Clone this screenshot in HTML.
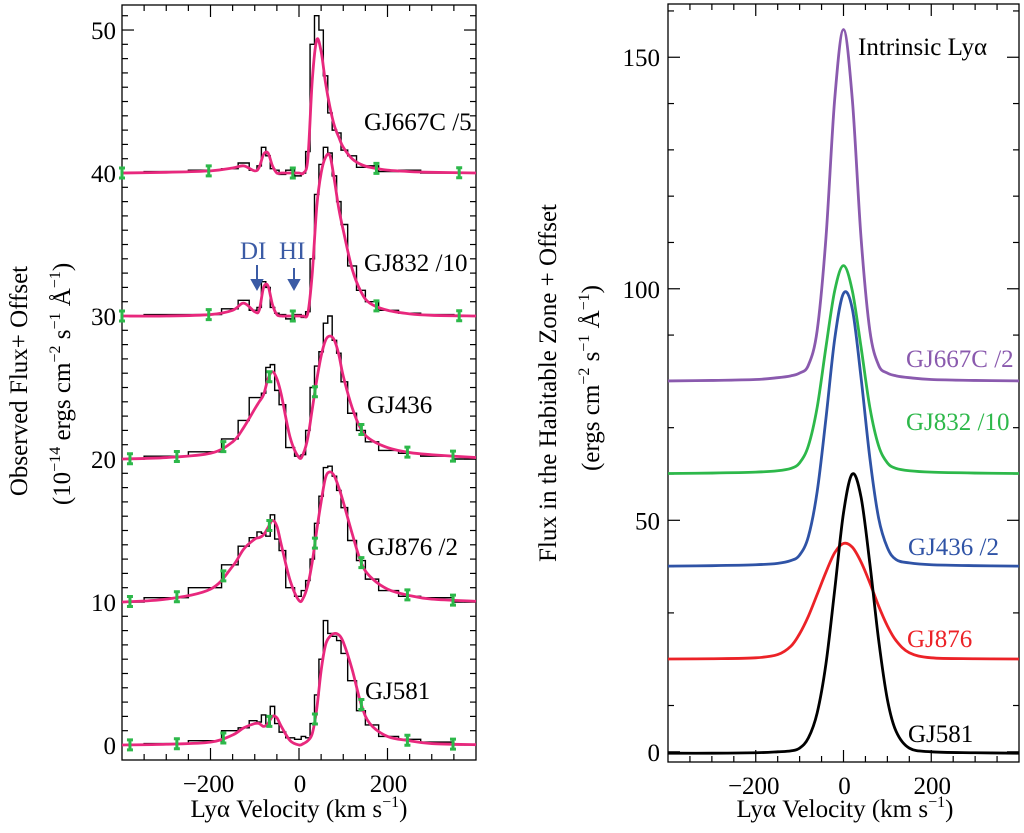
<!DOCTYPE html>
<html><head><meta charset="utf-8"><style>
body{margin:0;background:#fff}
svg{display:block;font-family:"Liberation Serif",serif}
</style></head><body>
<svg id="c" width="1024" height="833" viewBox="0 0 1024 833"></svg>
<script>
// ---------- data ----------
const leftV=[-400,-300,-200,-150,-125,-100,-90,-80,-70,-60,-50,-40,-20,0,10,20,30,40,50,60,70,80,90,100,120,140,160,200,250,300,400];
const gj667Model=[40,40.05,40.15,40.35,40.5,40.15,40.4,41.3,41.4,40.5,40,40,40,40,40,41,46.5,49.3,48.5,46.3,44.6,43.3,42.5,41.8,41,40.6,40.4,40.2,40.1,40.05,40];
const gj667Obs=[40,40.1,40.2,40.3,40.7,40.2,40.5,41.8,41.2,40.3,40.2,39.9,40.2,39.8,40,41.5,49,51,50,46.8,44.2,43,42.8,41.6,41.2,40.4,40.5,40.1,40.2,40,40];
const gj832Model=[30,30,30.1,30.4,30.9,30.3,30.4,32,32.1,30.8,30.1,30,30,30,30,30.2,33,37.6,40,41.1,41.2,39.5,37.5,36,33.3,31.7,30.9,30.4,30.15,30.05,30];
const gj832Obs=[30,30.1,30.1,30.5,31.1,30.4,30.6,32.4,32,30.6,30.2,30.1,29.8,30.1,29.9,30.3,34,38.5,40.6,41.8,41.4,39.8,38,36.4,33.5,31.8,31,30.4,30.2,30.1,30];
const gj436Model=[20,20.1,20.4,21.2,22.2,23.5,24,24.5,25.6,26.1,25.6,24.5,21.5,20.1,20.4,21.5,23.5,25.5,27.2,28.3,28.6,28.3,27.3,25.8,23.6,22.1,21.4,20.8,20.45,20.3,20.1];
const gj436Obs=[20,20.2,20.5,21.4,22.7,24.3,24.3,24.6,26.4,26.6,24.8,23.8,20.8,20.2,20.3,22,25,26.5,27.5,29.5,30,28.3,27.4,25.4,23.2,22,21.2,20.6,20.4,20.2,20];
const gj876Model=[10,10.2,10.9,12.5,13.7,14.4,14.5,14.7,15.2,15.7,15.3,14,11.5,10.1,10.3,11.2,12.8,15,17,18.7,19.1,18.8,18,17,14.8,12.8,11.8,10.9,10.45,10.2,10.05];
const gj876Obs=[10,10.3,11,12.6,13.9,14.5,14.9,14.8,14.6,16.1,14.4,13.6,11,10.4,10.8,11.5,13,15.5,17.4,19.4,19.5,18.8,17.8,16.6,14.3,12.9,11.6,10.8,10.4,10.3,10];
const gj581Model=[0,0.05,0.2,0.7,1.2,1.5,1.5,1.3,1.5,2,1.9,1.3,0.3,0,0.1,0.3,0.8,2.5,5.2,7,7.6,7.8,7.7,7.2,5.3,2.9,1.5,0.6,0.3,0.1,0.02];
const gj581Obs=[0,0.1,0.3,1,1.2,1.7,1.6,2.1,1.3,2.7,1.5,0.9,0.5,0.4,0.6,0.5,1.5,3.5,6,8.7,7.8,7.6,7.3,6.4,4.5,2.4,1.4,0.6,0.4,0.2,0];
const errV1=[-400,-204,-14,175,362];
const errV2=[-382,-276,-171,-67,36,141,245,348];
const rightV=[-400,-300,-200,-150,-120,-100,-80,-60,-40,-20,0,20,40,60,80,100,120,150,200,300,400];
const gj667Int=[80.1,80.2,80.4,80.8,81.2,81.8,83.5,91,111,141,156,141,111,91,83.5,81.8,81.2,80.8,80.4,80.2,80.1];
const gj832Int=[60.1,60.2,60.4,60.7,61.2,62.4,66.1,74.4,87.4,99.6,105,99.6,87.4,74.4,66.1,62.4,61.2,60.7,60.4,60.2,60.1];
const gj436Int=[40.1,40.2,40.4,40.7,41.3,42.5,46.5,56.2,72,89.2,99,95.7,80.8,63.5,50.5,44.1,41.5,40.8,40.4,40.2,40.1];
const gj876Int=[20.05,20.1,20.3,21,22.8,25.5,29.3,34,38.8,43,45,44.2,41,36.5,31.5,27.2,24,21.4,20.3,20.1,20.05];
const gj581Int=[-0.3,-0.3,-0.2,0,0.2,0.8,3,8.4,19,35,51.6,60,55,40.7,24.2,11.3,4.4,0.8,0,-0.2,-0.3];
const leftYTicks=[0,10,20,30,40,50];
const rightYTicks=[0,50,100,150];
const xTicks=[-200,0,200];

// ---------- helpers ----------
const svg=document.getElementById('c');const NS='http://www.w3.org/2000/svg';
function mk(t,a,p){const e=document.createElementNS(NS,t);for(const k in a)e.setAttribute(k,a[k]);(p||svg).appendChild(e);return e;}
const L={x0:122,x1:476,y0:5,y1:760,vmin:-400,vmax:400,ymin:-1.05,ymax:51.75};
const R={x0:668,x1:1019,y0:4,y1:762,vmin:-400,vmax:400,ymin:-2.2,ymax:161.5};
const sx=(P,v)=>P.x0+(v-P.vmin)/(P.vmax-P.vmin)*(P.x1-P.x0);
const sy=(P,y)=>P.y1-(y-P.ymin)/(P.ymax-P.ymin)*(P.y1-P.y0);
function smooth(pts){let d='M'+pts[0][0]+','+pts[0][1];for(let i=0;i<pts.length-1;i++){const p0=pts[Math.max(0,i-1)],p1=pts[i],p2=pts[i+1],p3=pts[Math.min(pts.length-1,i+2)];const c1x=p1[0]+(p2[0]-p0[0])/6,c1y=p1[1]+(p2[1]-p0[1])/6,c2x=p2[0]-(p3[0]-p1[0])/6,c2y=p2[1]-(p3[1]-p1[1])/6;d+=` C${c1x},${c1y} ${c2x},${c2y} ${p2[0]},${p2[1]}`;}return d;}
function interp(xs,ys,x){for(let i=0;i<xs.length-1;i++){if(x>=xs[i]&&x<=xs[i+1]){const t=(x-xs[i])/(xs[i+1]-xs[i]);return ys[i]+t*(ys[i+1]-ys[i]);}}return ys[ys.length-1];}

function drawFrame(P,yMinor,yMajor,ymaxTick,name){
  const g=mk('g',{});
  
  
  mk('rect',{x:P.x0,y:P.y0,width:P.x1-P.x0,height:P.y1-P.y0,fill:'none',stroke:'#000','stroke-width':1.3},g);
  for(let v=-350;v<=350;v+=50){const x=sx(P,v),len=(v%200===0)?12:6;
    mk('line',{x1:x,x2:x,y1:P.y1,y2:P.y1-len,stroke:'#000','stroke-width':1.2},g);
    mk('line',{x1:x,x2:x,y1:P.y0,y2:P.y0+len,stroke:'#000','stroke-width':1.2},g);}
  for(let y=0;y<=ymaxTick;y+=yMinor){const yy=sy(P,y),len=(Math.abs(y%yMajor)<1e-6)?12:6;
    mk('line',{x1:P.x0,x2:P.x0+len,y1:yy,y2:yy,stroke:'#000','stroke-width':1.2},g);
    mk('line',{x1:P.x1,x2:P.x1-len,y1:yy,y2:yy,stroke:'#000','stroke-width':1.2},g);}
  xTicks.forEach(v=>{const t=mk('text',{x:sx(P,v)+(v<0?-2:1),y:P.y1+32,'font-size':25,'text-anchor':'middle'},g);t.textContent=v<0?'\u2212'+(-v):v;
    });
}
drawFrame(L,1,10,51,'left');
drawFrame(R,10,50,160,'right');
leftYTicks.forEach(y=>{const t=mk('text',{x:116,y:sy(L,y)+9,'font-size':25,'text-anchor':'end'});t.textContent=y;
  });
rightYTicks.forEach(y=>{const t=mk('text',{x:660,y:sy(R,y)+9,'font-size':25,'text-anchor':'end'});t.textContent=y;
  });

// ---------- left series ----------
const leftSeries=[[gj667Obs,gj667Model,errV1,'gj667c'],[gj832Obs,gj832Model,errV1,'gj832'],[gj436Obs,gj436Model,errV2,'gj436'],[gj876Obs,gj876Model,errV2,'gj876'],[gj581Obs,gj581Model,errV2,'gj581']];
leftSeries.forEach(([obs,mod,ev,nm])=>{
  let d='';
  for(let i=0;i<leftV.length;i++){
    const lo=i===0?leftV[0]:(leftV[i-1]+leftV[i])/2, hi=i===leftV.length-1?leftV[i]:(leftV[i]+leftV[i+1])/2;
    const y=sy(L,obs[i]);d+=(i===0?'M':'L')+sx(L,lo)+','+y+' L'+sx(L,hi)+','+y+' ';}
  const o=mk('path',{d:d,fill:'none',stroke:'#000','stroke-width':1.4});
  
  
  const m=mk('path',{d:smooth(leftV.map((v,i)=>[sx(L,v),sy(L,mod[i])])),fill:'none',stroke:'#e8287d','stroke-width':2.8});
  
  
  ev.forEach(v=>{const x=sx(L,v),y=sy(L,interp(leftV,mod,v));
    const e=mk('path',{d:`M${x-3},${y-5}H${x+3}M${x},${y-5}V${y+5}M${x-3},${y+5}H${x+3}`,stroke:'#2db84a','stroke-width':3,fill:'none'});
    
    });
});

// ---------- right series ----------
const rightSeries=[[gj667Int,'#8a5aae','gj667c'],[gj832Int,'#2db84a','gj832'],[gj436Int,'#2f53a6','gj436'],[gj876Int,'#ec2227','gj876'],[gj581Int,'#000','gj581']];
rightSeries.forEach(([vals,col,nm])=>{
  const p=mk('path',{d:smooth(rightV.map((v,i)=>[sx(R,v),sy(R,vals[i])])),fill:'none',stroke:col,'stroke-width':2.8});
  
  
});
</script>
<div style="position:absolute;left:0;top:0;width:1024px;height:833px;pointer-events:none;font-family:'Liberation Serif',serif">
<svg width="1024" height="833" style="position:absolute;left:0;top:0">
<g font-size="25" fill="#000">
<text x="364" y="130">GJ667C /5</text>
<text x="364" y="271">GJ832 /10</text>
<text x="367" y="413">GJ436</text>
<text x="367" y="555">GJ876 /2</text>
<text x="365" y="699">GJ581</text>
<text x="240" y="259" fill="#3b5ba5">DI</text>
<text x="279" y="259" fill="#3b5ba5">HI</text>
<text x="858" y="55">Intrinsic Lyα</text>
<text x="906" y="367" fill="#8a5aae">GJ667C /2</text>
<text x="906" y="430" fill="#2db84a">GJ832 /10</text>
<text x="908" y="555" fill="#2f53a6">GJ436 /2</text>
<text x="907" y="647" fill="#ec2227">GJ876</text>
<text x="908" y="742">GJ581</text>
<text x="299" y="817" text-anchor="middle">Lyα Velocity (km s<tspan font-size="16" dy="-10">−1</tspan><tspan dy="10">)</tspan></text>
<text x="845" y="817" text-anchor="middle">Lyα Velocity (km s<tspan font-size="16" dy="-10">−1</tspan><tspan dy="10">)</tspan></text>
<text transform="translate(27,381) rotate(-90)" text-anchor="middle">Observed Flux+ Offset</text>
<text transform="translate(70,384) rotate(-90)" text-anchor="middle">(10<tspan font-size="16" dy="-10">−14</tspan><tspan dy="10"> ergs cm</tspan><tspan font-size="16" dy="-10">−2</tspan><tspan dy="10"> s</tspan><tspan font-size="16" dy="-10">−1</tspan><tspan dy="10"> Å</tspan><tspan font-size="16" dy="-10">−1</tspan><tspan dy="10">)</tspan></text>
<text transform="translate(556,383) rotate(-90)" text-anchor="middle">Flux in the Habitable Zone + Offset</text>
<text transform="translate(599,378) rotate(-90)" text-anchor="middle">(ergs cm<tspan font-size="16" dy="-10">−2</tspan><tspan dy="10"> s</tspan><tspan font-size="16" dy="-10">−1</tspan><tspan dy="10"> Å</tspan><tspan font-size="16" dy="-10">−1</tspan><tspan dy="10">)</tspan></text>
</g>
<g stroke="#3b5ba5" stroke-width="2" fill="#3b5ba5">
<line x1="257" y1="265" x2="257" y2="282"/><polygon points="252,280 262,280 257,289"/>
<line x1="294" y1="268" x2="294" y2="282"/><polygon points="289,280 299,280 294,289"/>
</g>
</svg>
</div>
</body></html>
